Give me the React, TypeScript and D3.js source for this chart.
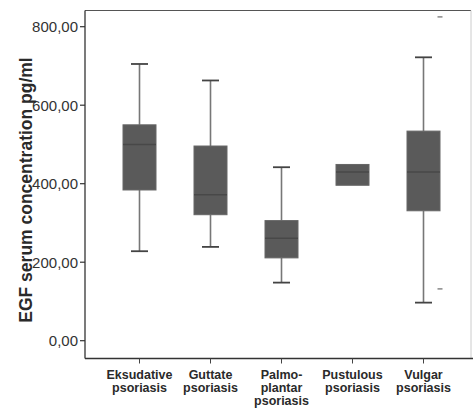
import React, { useEffect } from "react";
import * as d3 from "d3";

const categories = [
  ["Eksudative", "psoriasis"],
  ["Guttate", "psoriasis"],
  ["Palmo-", "plantar", "psoriasis"],
  ["Pustulous", "psoriasis"],
  ["Vulgar", "psoriasis"],
];
const whiskerLow: (number | null)[] = [228, 239, 148, null, 97];
const q1 = [384, 321, 211, 396, 331];
const median = [500, 372, 261, 430, 430];
const q3 = [550, 496, 306, 449, 534];
const whiskerHigh: (number | null)[] = [705, 663, 442, null, 722];
const outliers: [number, number][] = [
  [4, 825],
  [4, 132],
];
const yTicks = [0, 200, 400, 600, 800];
const yLabel = "EGF serum concentration pg/ml";

const W = 473;
const H = 414;
const left = 85;
const right = 471;
const top = 10.5;
const bottom = 358.5;

export default function App() {
  useEffect(() => {
    document.body.style.margin = "0";
  }, []);

  const y = d3.scaleLinear().domain([0, 800]).range([340.7, 26.7]);
  const x = d3
    .scalePoint<number>()
    .domain(categories.map((_, i) => i))
    .range([139.5, 423.5]);

  const boxW = 33;
  const capW = 17;
  const fmt = (v: number) => d3.format(".2f")(v).replace(".", ",");

  return (
    <svg width={W} height={H} style={{ display: "block", background: "#fff" }}>
      {/* frame */}
      <line x1={left} x2={right} y1={top} y2={top} stroke="#555" strokeWidth={1.2} />
      <line x1={right} x2={right} y1={top} y2={bottom} stroke="#ccc" strokeWidth={1} />
      <line x1={left} x2={W} y1={bottom} y2={bottom} stroke="#333" strokeWidth={1.3} />
      <line x1={left} x2={left} y1={top} y2={bottom} stroke="#333" strokeWidth={1.3} />

      {/* y axis ticks */}
      {yTicks.map((t) => (
        <g key={t}>
          <line x1={left - 5} x2={left} y1={y(t)} y2={y(t)} stroke="#333" strokeWidth={1.2} />
          <text
            x={left - 7}
            y={y(t)}
            dy="0.36em"
            textAnchor="end"
            fontFamily="Liberation Sans, Arial, sans-serif"
            fontSize={15}
            fill="#333"
          >
            {fmt(t)}
          </text>
        </g>
      ))}

      {/* y label */}
      <text
        transform={`translate(32,${190}) rotate(-90)`}
        textAnchor="middle"
        fontFamily="Liberation Sans, Arial, sans-serif"
        fontWeight="bold"
        fontSize={17.5}
        fill="#2a2a2a"
      >
        {yLabel}
      </text>

      {/* x ticks and labels */}
      {categories.map((lines, i) => (
        <g key={i}>
          <line x1={x(i)!} x2={x(i)!} y1={bottom} y2={bottom + 5} stroke="#444" strokeWidth={1} />
          <text
            textAnchor="middle"
            fontFamily="Liberation Sans, Arial, sans-serif"
            fontWeight="bold"
            fontSize={12.5}
            fill="#2a2a2a"
          >
            {lines.map((l, j) => (
              <tspan key={j} x={x(i)!} y={379 + j * 13}>
                {l}
              </tspan>
            ))}
          </text>
        </g>
      ))}

      {/* boxes */}
      {categories.map((_, i) => {
        const cx = x(i)!;
        const lo = whiskerLow[i];
        const hi = whiskerHigh[i];
        return (
          <g key={i}>
            {hi !== null && (
              <>
                <line x1={cx} x2={cx} y1={y(hi)} y2={y(q3[i])} stroke="#777" strokeWidth={1.6} />
                <line x1={cx - capW / 2} x2={cx + capW / 2} y1={y(hi)} y2={y(hi)} stroke="#444" strokeWidth={1.8} />
              </>
            )}
            {lo !== null && (
              <>
                <line x1={cx} x2={cx} y1={y(q1[i])} y2={y(lo)} stroke="#777" strokeWidth={1.6} />
                <line x1={cx - capW / 2} x2={cx + capW / 2} y1={y(lo)} y2={y(lo)} stroke="#444" strokeWidth={1.8} />
              </>
            )}
            <rect
              x={cx - boxW / 2}
              y={y(q3[i])}
              width={boxW}
              height={y(q1[i]) - y(q3[i])}
              fill="#5a5a5a"
              stroke="#666"
              strokeWidth={1}
            />
            <line
              x1={cx - boxW / 2}
              x2={cx + boxW / 2}
              y1={y(median[i])}
              y2={y(median[i])}
              stroke="#484848"
              strokeWidth={1.6}
            />
          </g>
        );
      })}

      {/* outliers */}
      {outliers.map(([i, v], k) => (
        <line
          key={k}
          x1={x(i)! + 14}
          x2={x(i)! + 19}
          y1={y(v)}
          y2={y(v)}
          stroke="#888"
          strokeWidth={1.5}
        />
      ))}
    </svg>
  );
}
